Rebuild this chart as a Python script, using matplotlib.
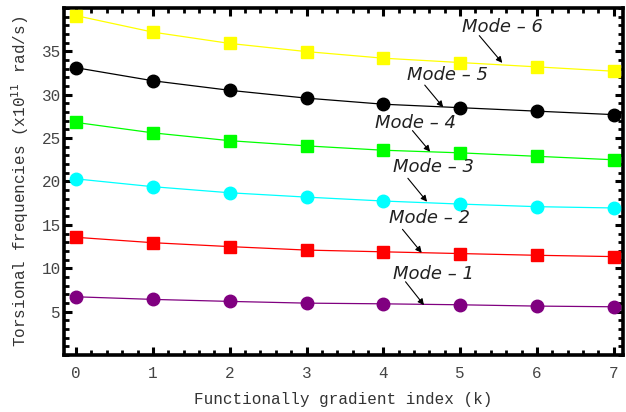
import matplotlib
matplotlib.use("Agg")
from matplotlib import pyplot as plt
from matplotlib.ticker import MultipleLocator

k = [0, 1, 2, 3, 4, 5, 6, 7]

mode1 = [6.72, 6.42, 6.19, 5.99, 5.91, 5.80, 5.65, 5.57]
mode2 = [13.57, 12.95, 12.50, 12.10, 11.90, 11.70, 11.50, 11.35]
mode3 = [20.30, 19.40, 18.70, 18.20, 17.75, 17.40, 17.10, 16.95]
mode4 = [26.80, 25.60, 24.70, 24.10, 23.60, 23.30, 22.90, 22.50]
mode5 = [33.10, 31.60, 30.50, 29.60, 28.90, 28.50, 28.10, 27.70]
mode6 = [39.10, 37.20, 35.90, 34.96, 34.20, 33.70, 33.20, 32.70]

modes = [mode1, mode2, mode3, mode4, mode5, mode6]
mode_labels = ["Mode \u2013 1", "Mode \u2013 2", "Mode \u2013 3",
               "Mode \u2013 4", "Mode \u2013 5", "Mode \u2013 6"]
colors = ["#800080", "#ff0000", "#00ffff", "#00ff00", "#000000", "#ffff00"]
markers = ["o", "s", "o", "s", "o", "s"]

# label (x, y) and arrow tail -> head, in data units
label_pos = [(4.12, 9.4), (4.08, 15.8), (4.12, 21.7),
             (3.89, 26.7), (4.31, 32.3), (5.03, 37.8)]
arrows = [((4.29, 8.45), (4.53, 5.76)),
          ((4.25, 14.49), (4.50, 11.79)),
          ((4.32, 20.37), (4.57, 17.67)),
          ((4.38, 25.86), (4.61, 23.43)),
          ((4.54, 31.1), (4.78, 28.55)),
          ((5.25, 36.8), (5.55, 33.66))]

mono = "Liberation Mono"

fig = plt.figure(figsize=(6.26, 4.12), dpi=100)
ax = fig.add_axes([0.102, 0.138, 0.893, 0.843])

for vals, c, m in zip(modes, colors, markers):
    ax.plot(k, vals, color=c, lw=0.9, zorder=2)
    ax.plot(k, vals, linestyle="none", marker=m, markersize=9,
            markerfacecolor=c, markeredgecolor=c, zorder=3)

for text, (tx, ty), (tail, head) in zip(mode_labels, label_pos, arrows):
    ax.text(tx, ty, text, fontsize=13, style="italic", color="#222222",
            ha="left", va="center", family="DejaVu Sans")
    ax.annotate("", xy=head, xytext=tail,
                arrowprops=dict(arrowstyle="-|>", color="black", lw=0.8,
                                mutation_scale=9, shrinkA=0, shrinkB=0))

ax.set_xlim(-0.16, 7.12)
ax.set_ylim(0.0, 40.0)
ax.xaxis.set_major_locator(MultipleLocator(1))
ax.xaxis.set_minor_locator(MultipleLocator(0.2))
ax.set_yticks([5, 10, 15, 20, 25, 30, 35])
ax.yaxis.set_minor_locator(MultipleLocator(1))

ax.tick_params(which="both", direction="in", top=True, right=True,
               colors="black", labelcolor="#444444")
ax.tick_params(which="major", length=6, width=2.2, labelsize=11.5)
ax.tick_params(which="minor", length=3.5, width=2.0)
ax.tick_params(axis="x", which="major", pad=8)
ax.tick_params(axis="y", which="major", pad=2)
for lab in ax.get_xticklabels() + ax.get_yticklabels():
    lab.set_family(mono)

for sp in ax.spines.values():
    sp.set_linewidth(2.6)

ax.set_xlabel("Functionally gradient index (k)", family=mono, fontsize=11.5,
              color="#333333", labelpad=8)
ax.set_ylabel("Torsional frequencies (x10$^{11}$ rad/s)", family=mono,
              fontsize=11.5, color="#333333", labelpad=8)

fig.savefig("out.png", dpi=100)
